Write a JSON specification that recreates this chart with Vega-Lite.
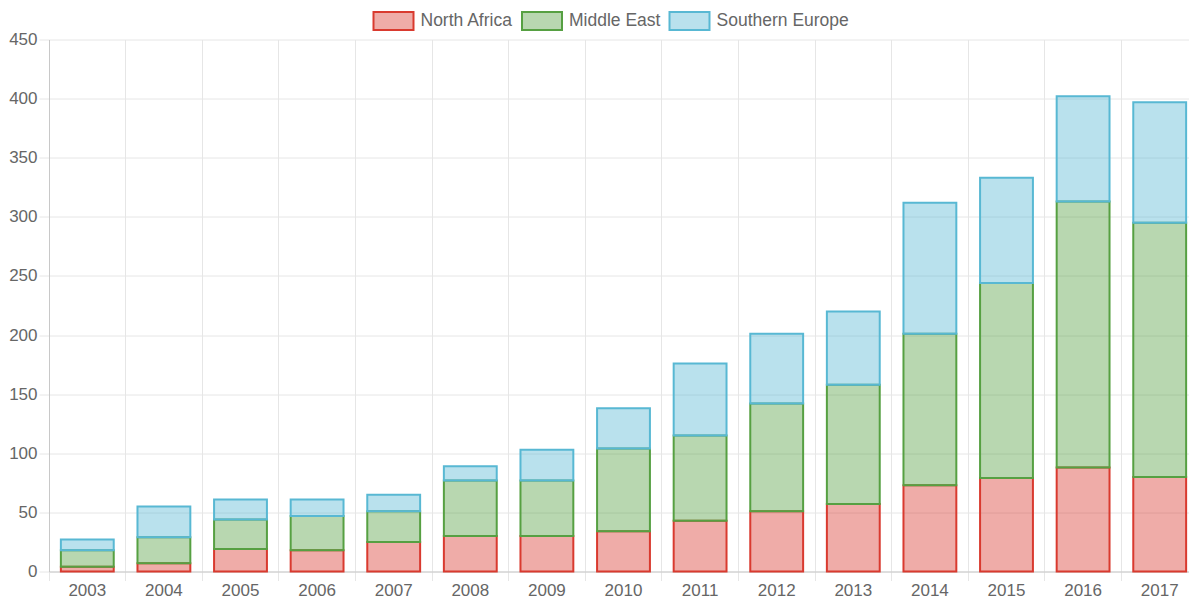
{
  "$schema": "https://vega.github.io/schema/vega-lite/v6.json",
  "width": 1140,
  "height": 532,
  "autosize": {"type": "none"},
  "padding": {"left": 49, "top": 39.5, "right": 0, "bottom": 27.5},
  "background": "white",
  "config": {
    "view": {"stroke": null},
    "font": "Liberation Sans",
    "axis": {
      "labelFont": "Liberation Sans",
      "labelFontSize": 17,
      "labelColor": "#666666",
      "gridColor": "#e6e6e6",
      "tickColor": "#e6e6e6",
      "domainColor": "#c8c8c8",
      "title": null
    },
    "legend": {
      "labelFont": "Liberation Sans",
      "labelFontSize": 17.5,
      "labelColor": "#666666"
    }
  },
  "data": {
    "values": [
      {"year": "2003", "region": "North Africa", "value": 4, "o": 1},
      {"year": "2003", "region": "Middle East", "value": 14, "o": 2},
      {"year": "2003", "region": "Southern Europe", "value": 9, "o": 3},
      {"year": "2004", "region": "North Africa", "value": 7, "o": 1},
      {"year": "2004", "region": "Middle East", "value": 22, "o": 2},
      {"year": "2004", "region": "Southern Europe", "value": 26, "o": 3},
      {"year": "2005", "region": "North Africa", "value": 19, "o": 1},
      {"year": "2005", "region": "Middle East", "value": 25, "o": 2},
      {"year": "2005", "region": "Southern Europe", "value": 17, "o": 3},
      {"year": "2006", "region": "North Africa", "value": 18, "o": 1},
      {"year": "2006", "region": "Middle East", "value": 29, "o": 2},
      {"year": "2006", "region": "Southern Europe", "value": 14, "o": 3},
      {"year": "2007", "region": "North Africa", "value": 25, "o": 1},
      {"year": "2007", "region": "Middle East", "value": 26, "o": 2},
      {"year": "2007", "region": "Southern Europe", "value": 14, "o": 3},
      {"year": "2008", "region": "North Africa", "value": 30, "o": 1},
      {"year": "2008", "region": "Middle East", "value": 47, "o": 2},
      {"year": "2008", "region": "Southern Europe", "value": 12, "o": 3},
      {"year": "2009", "region": "North Africa", "value": 30, "o": 1},
      {"year": "2009", "region": "Middle East", "value": 47, "o": 2},
      {"year": "2009", "region": "Southern Europe", "value": 26, "o": 3},
      {"year": "2010", "region": "North Africa", "value": 34, "o": 1},
      {"year": "2010", "region": "Middle East", "value": 70, "o": 2},
      {"year": "2010", "region": "Southern Europe", "value": 34, "o": 3},
      {"year": "2011", "region": "North Africa", "value": 43, "o": 1},
      {"year": "2011", "region": "Middle East", "value": 72, "o": 2},
      {"year": "2011", "region": "Southern Europe", "value": 61, "o": 3},
      {"year": "2012", "region": "North Africa", "value": 51, "o": 1},
      {"year": "2012", "region": "Middle East", "value": 91, "o": 2},
      {"year": "2012", "region": "Southern Europe", "value": 59, "o": 3},
      {"year": "2013", "region": "North Africa", "value": 57, "o": 1},
      {"year": "2013", "region": "Middle East", "value": 101, "o": 2},
      {"year": "2013", "region": "Southern Europe", "value": 62, "o": 3},
      {"year": "2014", "region": "North Africa", "value": 73, "o": 1},
      {"year": "2014", "region": "Middle East", "value": 128, "o": 2},
      {"year": "2014", "region": "Southern Europe", "value": 111, "o": 3},
      {"year": "2015", "region": "North Africa", "value": 79, "o": 1},
      {"year": "2015", "region": "Middle East", "value": 165, "o": 2},
      {"year": "2015", "region": "Southern Europe", "value": 89, "o": 3},
      {"year": "2016", "region": "North Africa", "value": 88, "o": 1},
      {"year": "2016", "region": "Middle East", "value": 225, "o": 2},
      {"year": "2016", "region": "Southern Europe", "value": 89, "o": 3},
      {"year": "2017", "region": "North Africa", "value": 80, "o": 1},
      {"year": "2017", "region": "Middle East", "value": 215, "o": 2},
      {"year": "2017", "region": "Southern Europe", "value": 102, "o": 3}
    ]
  },
  "mark": {"type": "bar", "filled": true, "fillOpacity": 0.42, "strokeWidth": 2},
  "encoding": {
    "x": {
      "field": "year",
      "type": "nominal",
      "scale": {"range": [0, 1149], "paddingInner": 0.31, "paddingOuter": 0.155},
      "axis": {
        "labelAngle": 0,
        "bandPosition": -0.2246,
        "grid": true,
        "tickSize": 9,
        "labelPadding": 2,
        "labelBaseline": "top"
      }
    },
    "y": {
      "field": "value",
      "type": "quantitative",
      "stack": "zero",
      "scale": {"domain": [0, 450], "nice": false},
      "axis": {
        "values": [0, 50, 100, 150, 200, 250, 300, 350, 400, 450],
        "grid": true,
        "tickSize": 10,
        "labelPadding": 2
      }
    },
    "order": {"field": "o", "type": "quantitative"},
    "color": {
      "field": "region",
      "type": "nominal",
      "scale": {
        "domain": ["North Africa", "Middle East", "Southern Europe"],
        "range": ["#d93a2f", "#56a042", "#58b8d3"]
      },
      "legend": {
        "title": null,
        "orient": "none",
        "direction": "horizontal",
        "legendX": 323.5,
        "legendY": -39.5,
        "symbolType": "M-1,-0.45H1V0.45H-1Z",
        "symbolSize": 1600,
        "symbolStrokeWidth": 2,
        "symbolOpacity": 1,
        "labelOffset": 6,
        "columnPadding": 4.5,
        "encode": {
          "symbols": {
            "update": {
              "stroke": {"scale": "color", "field": "value"},
              "fillOpacity": {"value": 0.42},
              "strokeWidth": {"value": 2}
            }
          }
        }
      }
    },
    "stroke": {
      "field": "region",
      "type": "nominal",
      "scale": {
        "domain": ["North Africa", "Middle East", "Southern Europe"],
        "range": ["#d93a2f", "#56a042", "#58b8d3"]
      },
      "legend": null
    }
  }
}
